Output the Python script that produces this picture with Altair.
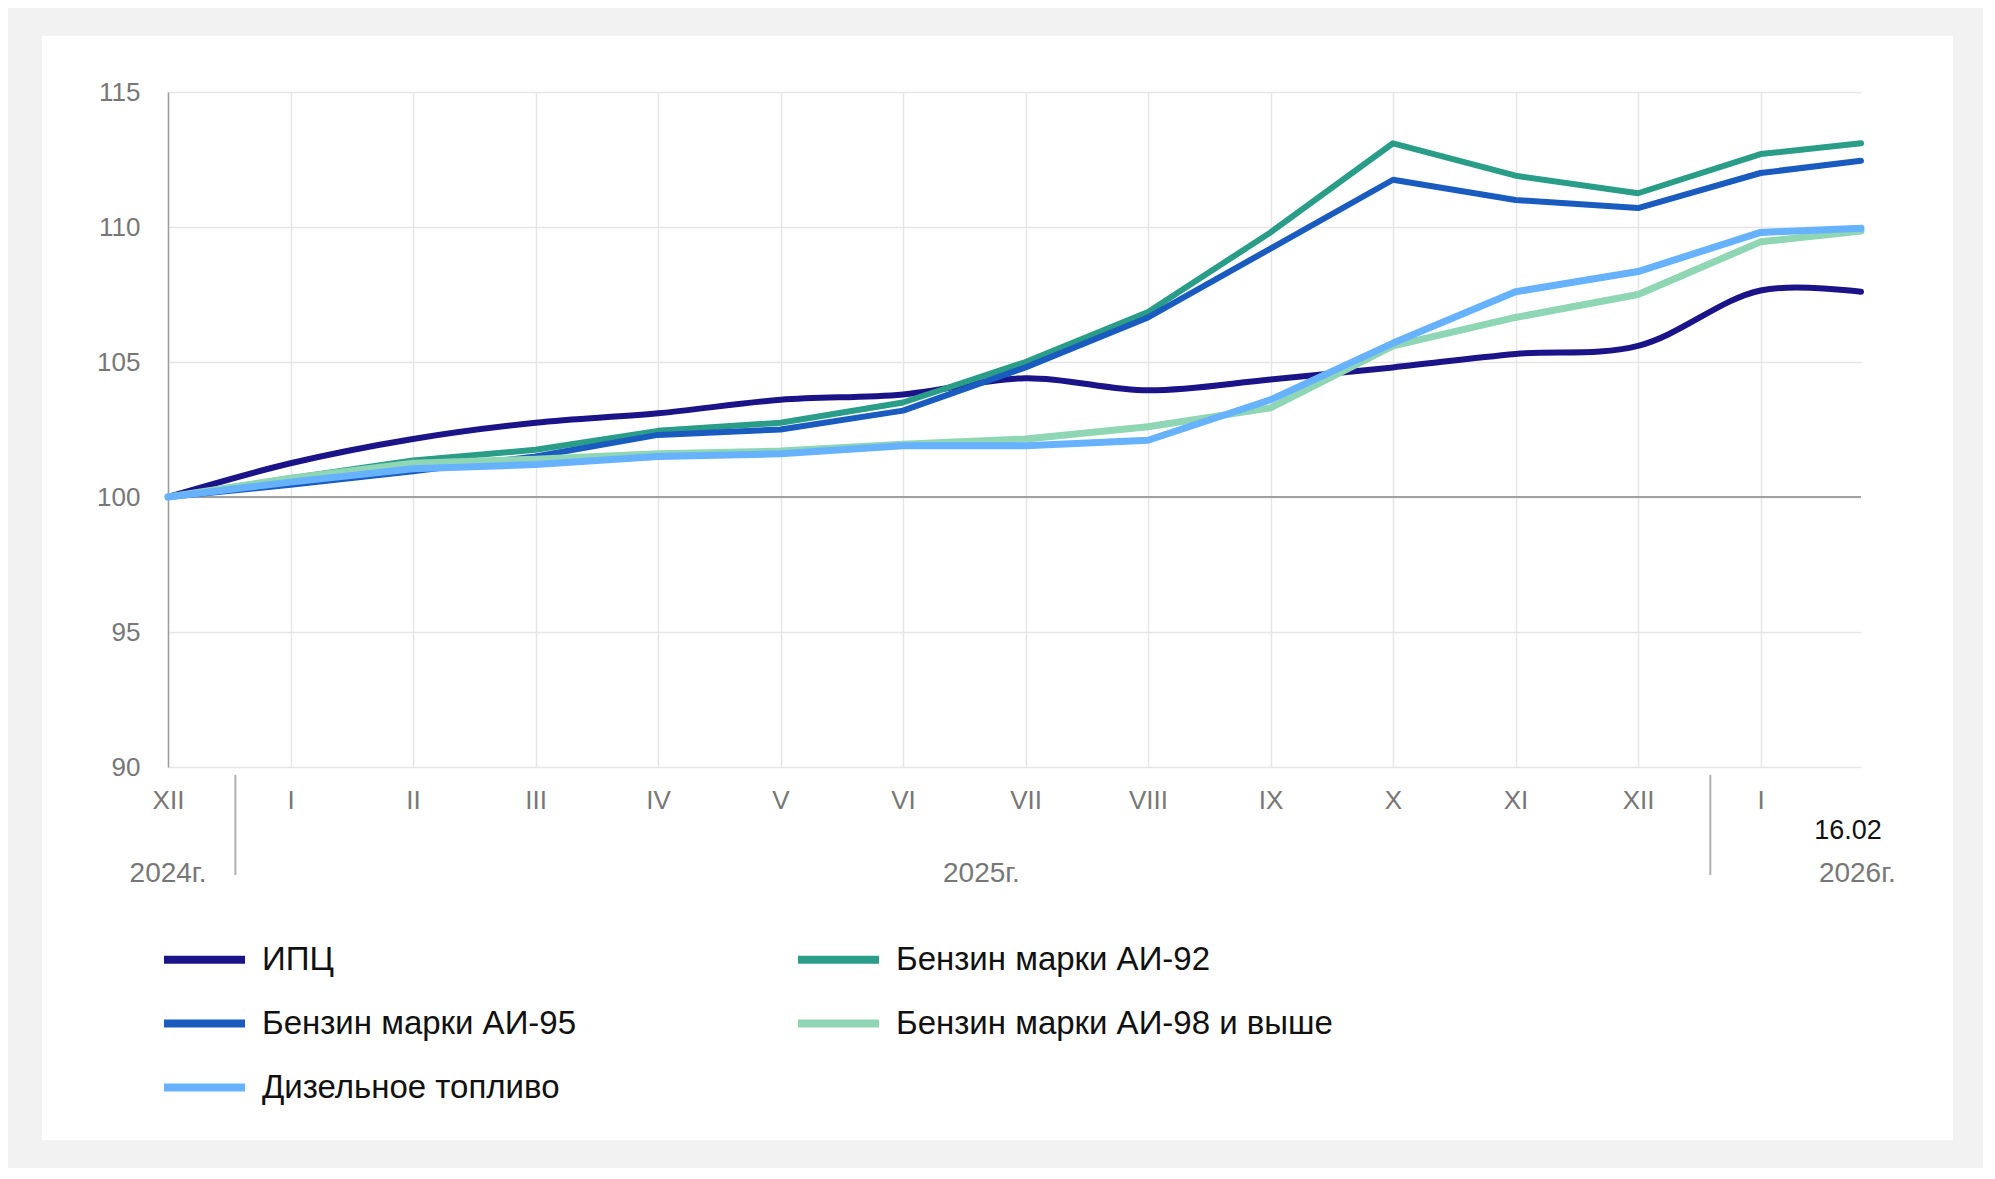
import altair as alt
import pandas as pd

# ---- data ----
month_labels = ["XII", "I", "II", "III", "IV", "V", "VI", "VII", "VIII", "IX", "X", "XI", "XII", "I"]
x_index = [0, 1, 2, 3, 4, 5, 6, 7, 8, 9, 10, 11, 12, 13, 13.82]   # last point = 16.02
last_label = "16.02"

series_names = ["ИПЦ", "Бензин марки АИ-92", "Бензин марки АИ-95",
                "Бензин марки АИ-98 и выше", "Дизельное топливо"]
series_colors = ["#1b1488", "#2a9d88", "#1a5bbf", "#8fd6b4", "#66b2ff"]
# legend fills column by column: col 1 = ИПЦ, АИ-95, ДТ; col 2 = АИ-92, АИ-98
legend_order = [0, 2, 4, 1, 3]

cpi    = [100, 101.25, 102.15, 102.75, 103.1, 103.6, 103.8, 104.4, 103.95, 104.35, 104.8, 105.3, 105.6, 107.65, 107.6]
ai92   = [100, 100.7, 101.35, 101.75, 102.45, 102.75, 103.5, 105.0, 106.85, 109.8, 113.1, 111.9, 111.25, 112.7, 113.1]
ai95   = [100, 100.45, 100.95, 101.5, 102.3, 102.5, 103.2, 104.8, 106.65, 109.2, 111.75, 111.0, 110.7, 112.0, 112.45]
ai98   = [100, 100.7, 101.25, 101.4, 101.6, 101.7, 101.95, 102.15, 102.6, 103.3, 105.6, 106.65, 107.5, 109.45, 109.85]
diesel = [100, 100.55, 101.05, 101.2, 101.5, 101.6, 101.9, 101.9, 102.1, 103.6, 105.7, 107.6, 108.35, 109.8, 109.95]

year_labels = ["2024г.", "2025г.", "2026г."]
year_pos = [0, 6.64, 13.79]
separator_pos = [0.55, 12.59]

y_ticks = [90, 95, 100, 105, 110, 115]

# ---- table ----
values = [cpi, ai92, ai95, ai98, diesel]
rows = []
for name, vals in zip(series_names, values):
    for xi, v in zip(x_index, vals):
        rows.append({"series": name, "x": xi, "value": v})
df = pd.DataFrame(rows)

FONT = "Liberation Sans"
GRAY = "#777777"

labels_js = "[" + ",".join('"%s"' % m for m in month_labels) + "]"

x_scale = alt.Scale(domain=[0, x_index[-1]], nice=False, zero=False)
y_scale = alt.Scale(domain=[90, 115], nice=False, zero=False)

x_axis = alt.Axis(values=list(range(len(month_labels))), labelExpr=labels_js + "[datum.value]",
                  title=None, ticks=False, tickSize=0, domain=False, grid=True,
                  gridColor="#e6e6e6", gridWidth=1.5, labelFont=FONT, labelFontSize=26,
                  labelColor=GRAY, labelPadding=20, labelAngle=0, labelFlush=False)
y_axis = alt.Axis(values=y_ticks, title=None, ticks=False, tickSize=0, domain=True,
                  domainColor="#9e9e9e", domainWidth=1.5, grid=True, gridColor="#e6e6e6",
                  gridWidth=1.5, labelFont=FONT, labelFontSize=26, labelColor=GRAY,
                  labelPadding=28)

legend = alt.Legend(orient="none", legendX=-8, legendY=823, columns=2, title=None,
                    symbolType="stroke", symbolSize=6561, symbolStrokeWidth=8,
                    labelFont=FONT, labelFontSize=33, labelColor="#111111",
                    labelOffset=13, columnPadding=205, rowPadding=2, labelLimit=0)

color = alt.Color("series:N",
                  scale=alt.Scale(domain=[series_names[i] for i in legend_order],
                                  range=[series_colors[i] for i in legend_order]),
                  legend=legend)

# gray frame around the white panel
frame = alt.Chart(pd.DataFrame({"a": [0]})).mark_rect(
    fill="white", fillOpacity=0, stroke="#f2f2f2", strokeWidth=100
).encode(x=alt.value(-176), x2=alt.value(1835), y=alt.value(-106), y2=alt.value(1098))

base_rule = alt.Chart(pd.DataFrame({"value": [100]})).mark_rule(
    color="#a0a0a0", strokeWidth=2
).encode(y=alt.Y("value:Q", scale=y_scale, axis=y_axis))

layers = [frame, base_rule]
for name in series_names:
    interp = "catmull-rom" if name == "ИПЦ" else "linear"
    width = 7 if name in ("Дизельное топливо", "Бензин марки АИ-98 и выше") else 6
    layers.append(
        alt.Chart(df).transform_filter(alt.datum.series == name).mark_line(
            strokeWidth=width, interpolate=interp, strokeCap="round", strokeJoin="round"
        ).encode(
            x=alt.X("x:Q", scale=x_scale, axis=x_axis),
            y=alt.Y("value:Q", scale=y_scale, axis=y_axis),
            color=color,
        )
    )

sep = alt.Chart(pd.DataFrame({"x": separator_pos})).mark_rule(
    color="#b0b0b0", strokeWidth=2
).encode(x=alt.X("x:Q", scale=x_scale, axis=x_axis), y=alt.value(683), y2=alt.value(783))

years = alt.Chart(pd.DataFrame({"x": year_pos, "t": year_labels})).mark_text(
    font=FONT, fontSize=28, color=GRAY, baseline="middle", align="center"
).encode(x=alt.X("x:Q", scale=x_scale, axis=x_axis), y=alt.value(782), text="t:N")

last = alt.Chart(pd.DataFrame({"x": [x_index[-1]], "t": [last_label]})).mark_text(
    font=FONT, fontSize=27, color="#111111", baseline="middle", align="center", dx=-13
).encode(x=alt.X("x:Q", scale=x_scale, axis=x_axis), y=alt.value(739), text="t:N")

layers += [sep, years, last]

chart = alt.layer(*layers).properties(
    width=1693, height=675,
    autosize=alt.AutoSizeParams(type="none"),
    padding={"left": 160, "top": 84, "right": 122, "bottom": 401},
    background="white",
).configure_view(stroke=None)

chart.save("out.html", embed_options={"renderer": "svg", "actions": False})
